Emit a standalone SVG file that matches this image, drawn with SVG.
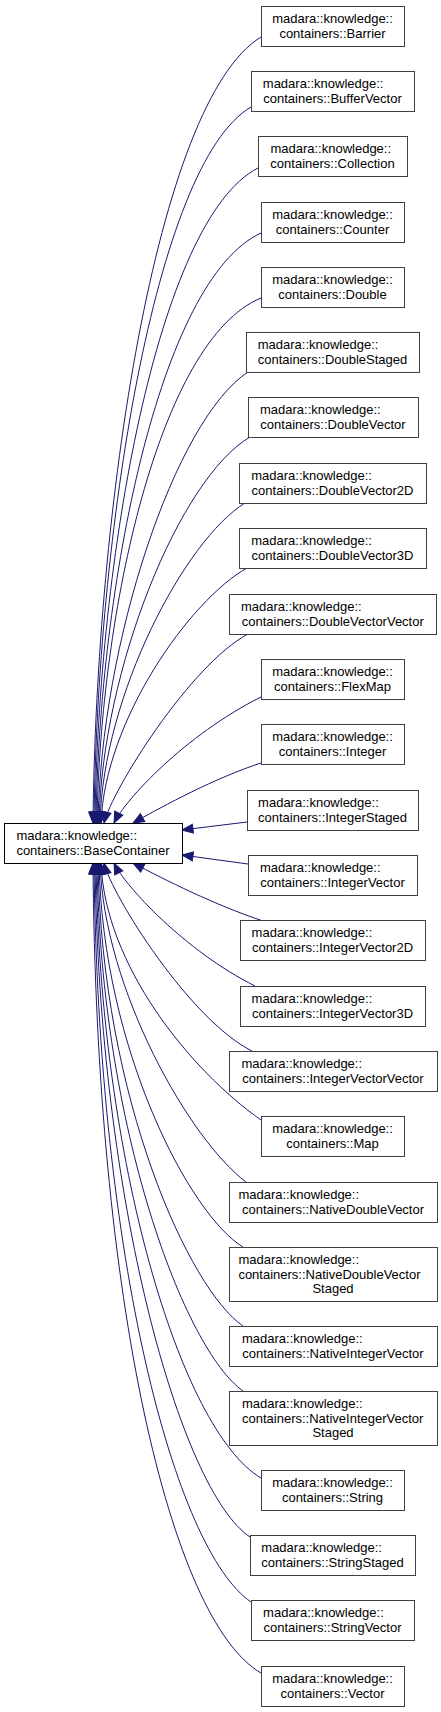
<svg xmlns="http://www.w3.org/2000/svg" width="441" height="1712" viewBox="0 0 441 1712">
<style>
.n rect{fill:#fff;stroke:#404040;stroke-width:1}
.b rect{fill:#fff;stroke:#000;stroke-width:1}
text{font-family:"Liberation Sans",Arial,Helvetica,sans-serif;font-size:13px;fill:#000}
.c{text-anchor:middle}
#edges path{fill:none;stroke:#191970;stroke-width:1;marker-start:url(#ah)}
</style>
<defs>
<marker id="ah" markerUnits="userSpaceOnUse" markerWidth="14" markerHeight="12" viewBox="-1 -6 14 12" refX="0" refY="0" orient="auto" overflow="visible">
<path d="M0,0 L11,-4.5 L11,4.5 Z" fill="#191970" stroke="#191970" stroke-width="1"/>
</marker>
</defs>
<rect width="441" height="1712" fill="#fff"/>
<g id="edges">
<path d="M93,823 C96,513 155,102 261,37"/>
<path d="M94,823 C97,537 154,164 251,107"/>
<path d="M95,823 C98,561 157,220 258,168"/>
<path d="M96,823 C99,587 159,280 261,233"/>
<path d="M97,823 C100,613 159,340 261,298"/>
<path d="M98,823 C101,643 175,420 248,372"/>
<path d="M99,823 C102,669 180,478 250,437"/>
<path d="M100,823 C103,695 185,540 245,503"/>
<path d="M101,823 C105,720 190,600 247,568"/>
<path d="M104,823 C112,790 190,665 248,634"/>
<path d="M114,823 C125,800 185,735 261,697"/>
<path d="M133,823 C165,805 215,778 261,763"/>
<path d="M182,830 L247,822"/>
<path d="M182,855 L248,864"/>
<path d="M133,863 C165,880 215,905 263,921"/>
<path d="M114,863 C125,886 185,951 255,986"/>
<path d="M104,863 C112,896 190,1020 252,1051"/>
<path d="M101,863 C105,965 190,1070 261,1120"/>
<path d="M100,863 C104,990 190,1140 246,1182"/>
<path d="M99,863 C103,1050 190,1215 243,1247"/>
<path d="M98,863 C102,1100 190,1290 243,1326"/>
<path d="M97,863 C101,1130 185,1350 243,1391"/>
<path d="M96,863 C100,1160 180,1430 261,1478"/>
<path d="M95,863 C99,1200 180,1490 250,1537"/>
<path d="M94,863 C98,1260 175,1550 251,1602"/>
<path d="M93,863 C96,1300 170,1620 261,1673"/>
</g>
<g id="BaseContainer" class="b"><rect x="4.5" y="823.5" width="178" height="40"/><text x="16.4" y="840">madara::knowledge::</text><text class="c" x="93" y="855">containers::BaseContainer</text></g>
<g id="Barrier" class="n"><rect x="261.5" y="6.5" width="143" height="40"/><text class="c" x="332.5" y="23">madara::knowledge::</text><text class="c" x="332.5" y="38">containers::Barrier</text></g>
<g id="BufferVector" class="n"><rect x="251.5" y="71.5" width="163" height="40"/><text x="262.8" y="88">madara::knowledge::</text><text class="c" x="332.5" y="103">containers::BufferVector</text></g>
<g id="Collection" class="n"><rect x="258.5" y="136.5" width="149" height="40"/><text x="270.4" y="153">madara::knowledge::</text><text class="c" x="332.5" y="168">containers::Collection</text></g>
<g id="Counter" class="n"><rect x="261.5" y="202.5" width="143" height="40"/><text class="c" x="332.5" y="219">madara::knowledge::</text><text class="c" x="332.5" y="234">containers::Counter</text></g>
<g id="Double" class="n"><rect x="261.5" y="267.5" width="143" height="40"/><text class="c" x="332.5" y="284">madara::knowledge::</text><text class="c" x="332.5" y="299">containers::Double</text></g>
<g id="DoubleStaged" class="n"><rect x="246.5" y="332.5" width="173" height="40"/><text x="257.7" y="349">madara::knowledge::</text><text class="c" x="332.5" y="364">containers::DoubleStaged</text></g>
<g id="DoubleVector" class="n"><rect x="248.5" y="397.5" width="170" height="40"/><text x="260" y="414">madara::knowledge::</text><text class="c" x="333" y="429">containers::DoubleVector</text></g>
<g id="DoubleVector2D" class="n"><rect x="239.5" y="463.5" width="187" height="40"/><text x="251.2" y="480">madara::knowledge::</text><text class="c" x="332.5" y="495">containers::DoubleVector2D</text></g>
<g id="DoubleVector3D" class="n"><rect x="239.5" y="528.5" width="187" height="40"/><text x="251.2" y="545">madara::knowledge::</text><text class="c" x="332.5" y="560">containers::DoubleVector3D</text></g>
<g id="DoubleVectorVector" class="n"><rect x="229.5" y="594.5" width="207" height="40"/><text x="241" y="611">madara::knowledge::</text><text class="c" x="332.75" y="626">containers::DoubleVectorVector</text></g>
<g id="FlexMap" class="n"><rect x="261.5" y="659.5" width="143" height="40"/><text class="c" x="332.5" y="676">madara::knowledge::</text><text class="c" x="332.5" y="691">containers::FlexMap</text></g>
<g id="Integer" class="n"><rect x="261.5" y="724.5" width="143" height="40"/><text class="c" x="332.5" y="741">madara::knowledge::</text><text class="c" x="332.5" y="756">containers::Integer</text></g>
<g id="IntegerStaged" class="n"><rect x="247.5" y="790.5" width="171" height="40"/><text x="258.1" y="807">madara::knowledge::</text><text class="c" x="332.5" y="822">containers::IntegerStaged</text></g>
<g id="IntegerVector" class="n"><rect x="248.5" y="855.5" width="169" height="40"/><text x="259.9" y="872">madara::knowledge::</text><text class="c" x="332.5" y="887">containers::IntegerVector</text></g>
<g id="IntegerVector2D" class="n"><rect x="240.5" y="920.5" width="185" height="40"/><text x="251.6" y="937">madara::knowledge::</text><text class="c" x="332.5" y="952">containers::IntegerVector2D</text></g>
<g id="IntegerVector3D" class="n"><rect x="240.5" y="986.5" width="185" height="40"/><text x="251.6" y="1003">madara::knowledge::</text><text class="c" x="332.5" y="1018">containers::IntegerVector3D</text></g>
<g id="IntegerVectorVector" class="n"><rect x="229.5" y="1051.5" width="208" height="40"/><text x="241.4" y="1068">madara::knowledge::</text><text class="c" x="333" y="1083">containers::IntegerVectorVector</text></g>
<g id="Map" class="n"><rect x="261.5" y="1116.5" width="143" height="40"/><text class="c" x="332.5" y="1133">madara::knowledge::</text><text class="c" x="332.5" y="1148">containers::Map</text></g>
<g id="NativeDoubleVector" class="n"><rect x="229.5" y="1182.5" width="208" height="40"/><text x="238.4" y="1199">madara::knowledge::</text><text class="c" x="333" y="1214">containers::NativeDoubleVector</text></g>
<g id="NativeDoubleVectorStaged" class="n"><rect x="229.5" y="1247.5" width="208" height="54"/><text x="238.4" y="1264">madara::knowledge::</text><text x="238.4" y="1278.5">containers::NativeDoubleVector</text><text class="c" x="333" y="1293">Staged</text></g>
<g id="NativeIntegerVector" class="n"><rect x="229.5" y="1326.5" width="208" height="40"/><text x="242" y="1343">madara::knowledge::</text><text class="c" x="333" y="1358">containers::NativeIntegerVector</text></g>
<g id="NativeIntegerVectorStaged" class="n"><rect x="229.5" y="1391.5" width="208" height="54"/><text x="242" y="1408">madara::knowledge::</text><text x="242" y="1422.5">containers::NativeIntegerVector</text><text class="c" x="333" y="1437">Staged</text></g>
<g id="String" class="n"><rect x="261.5" y="1470.5" width="143" height="40"/><text class="c" x="332.5" y="1487">madara::knowledge::</text><text class="c" x="332.5" y="1502">containers::String</text></g>
<g id="StringStaged" class="n"><rect x="250.5" y="1535.5" width="165" height="40"/><text x="261.3" y="1552">madara::knowledge::</text><text class="c" x="332.5" y="1567">containers::StringStaged</text></g>
<g id="StringVector" class="n"><rect x="251.5" y="1600.5" width="163" height="40"/><text x="263.1" y="1617">madara::knowledge::</text><text class="c" x="332.5" y="1632">containers::StringVector</text></g>
<g id="Vector" class="n"><rect x="261.5" y="1666.5" width="143" height="40"/><text class="c" x="332.5" y="1683">madara::knowledge::</text><text class="c" x="332.5" y="1698">containers::Vector</text></g>
</svg>
